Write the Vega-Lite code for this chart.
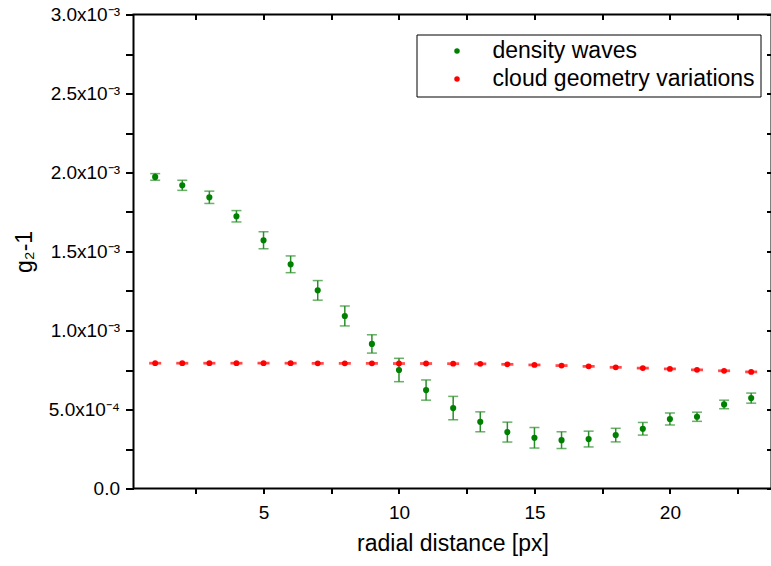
{
  "$schema": "https://vega.github.io/schema/vega-lite/v6.json",
  "autosize": {"type": "none"},
  "width": 638,
  "height": 474,
  "padding": {"left": 133.5, "top": 14.5, "right": 0, "bottom": 77.5},
  "background": "white",
  "config": {
    "view": {"stroke": "#000000", "strokeWidth": 2},
    "font": "Liberation Sans",
    "axis": {"domain": false, "tickColor": "#000000", "tickWidth": 2, "grid": false, "labelColor": "black", "titleColor": "black", "labelFont": "Liberation Sans", "titleFont": "Liberation Sans", "titleFontWeight": "normal"}
  },
  "data": {"values": [
    {"r": 1, "v": 0.001972, "lo": 0.001951, "hi": 0.001993, "series": "density waves"},
    {"r": 2, "v": 0.001919, "lo": 0.001887, "hi": 0.001951, "series": "density waves"},
    {"r": 3, "v": 0.001843, "lo": 0.001804, "hi": 0.001882, "series": "density waves"},
    {"r": 4, "v": 0.001723, "lo": 0.001687, "hi": 0.001759, "series": "density waves"},
    {"r": 5, "v": 0.001571, "lo": 0.001517, "hi": 0.001625, "series": "density waves"},
    {"r": 6, "v": 0.001419, "lo": 0.001366, "hi": 0.001472, "series": "density waves"},
    {"r": 7, "v": 0.001254, "lo": 0.001192, "hi": 0.001316, "series": "density waves"},
    {"r": 8, "v": 0.001092, "lo": 0.001029, "hi": 0.001155, "series": "density waves"},
    {"r": 9, "v": 0.000915, "lo": 0.000857, "hi": 0.000973, "series": "density waves"},
    {"r": 10, "v": 0.000750, "lo": 0.000676, "hi": 0.000824, "series": "density waves"},
    {"r": 11, "v": 0.000623, "lo": 0.000559, "hi": 0.000687, "series": "density waves"},
    {"r": 12, "v": 0.000509, "lo": 0.000435, "hi": 0.000583, "series": "density waves"},
    {"r": 13, "v": 0.000422, "lo": 0.000359, "hi": 0.000485, "series": "density waves"},
    {"r": 14, "v": 0.000357, "lo": 0.000294, "hi": 0.000420, "series": "density waves"},
    {"r": 15, "v": 0.000321, "lo": 0.000256, "hi": 0.000386, "series": "density waves"},
    {"r": 16, "v": 0.000306, "lo": 0.000253, "hi": 0.000359, "series": "density waves"},
    {"r": 17, "v": 0.000313, "lo": 0.000263, "hi": 0.000363, "series": "density waves"},
    {"r": 18, "v": 0.000338, "lo": 0.000295, "hi": 0.000381, "series": "density waves"},
    {"r": 19, "v": 0.000378, "lo": 0.000338, "hi": 0.000418, "series": "density waves"},
    {"r": 20, "v": 0.000440, "lo": 0.000402, "hi": 0.000478, "series": "density waves"},
    {"r": 21, "v": 0.000454, "lo": 0.000425, "hi": 0.000483, "series": "density waves"},
    {"r": 22, "v": 0.000532, "lo": 0.000505, "hi": 0.000559, "series": "density waves"},
    {"r": 23, "v": 0.000572, "lo": 0.000540, "hi": 0.000604, "series": "density waves"},
    {"r": 1, "v": 0.000793, "lo": 0.000789, "hi": 0.000797, "series": "cloud geometry variations"},
    {"r": 2, "v": 0.000793, "lo": 0.000789, "hi": 0.000797, "series": "cloud geometry variations"},
    {"r": 3, "v": 0.000793, "lo": 0.000789, "hi": 0.000797, "series": "cloud geometry variations"},
    {"r": 4, "v": 0.000793, "lo": 0.000789, "hi": 0.000797, "series": "cloud geometry variations"},
    {"r": 5, "v": 0.000793, "lo": 0.000789, "hi": 0.000797, "series": "cloud geometry variations"},
    {"r": 6, "v": 0.000793, "lo": 0.000789, "hi": 0.000797, "series": "cloud geometry variations"},
    {"r": 7, "v": 0.000792, "lo": 0.000788, "hi": 0.000796, "series": "cloud geometry variations"},
    {"r": 8, "v": 0.000792, "lo": 0.000788, "hi": 0.000796, "series": "cloud geometry variations"},
    {"r": 9, "v": 0.000792, "lo": 0.000788, "hi": 0.000796, "series": "cloud geometry variations"},
    {"r": 10, "v": 0.000791, "lo": 0.000787, "hi": 0.000795, "series": "cloud geometry variations"},
    {"r": 11, "v": 0.000791, "lo": 0.000787, "hi": 0.000795, "series": "cloud geometry variations"},
    {"r": 12, "v": 0.000790, "lo": 0.000786, "hi": 0.000794, "series": "cloud geometry variations"},
    {"r": 13, "v": 0.000789, "lo": 0.000785, "hi": 0.000793, "series": "cloud geometry variations"},
    {"r": 14, "v": 0.000786, "lo": 0.000782, "hi": 0.000790, "series": "cloud geometry variations"},
    {"r": 15, "v": 0.000782, "lo": 0.000778, "hi": 0.000786, "series": "cloud geometry variations"},
    {"r": 16, "v": 0.000778, "lo": 0.000774, "hi": 0.000782, "series": "cloud geometry variations"},
    {"r": 17, "v": 0.000773, "lo": 0.000769, "hi": 0.000777, "series": "cloud geometry variations"},
    {"r": 18, "v": 0.000767, "lo": 0.000763, "hi": 0.000771, "series": "cloud geometry variations"},
    {"r": 19, "v": 0.000762, "lo": 0.000758, "hi": 0.000766, "series": "cloud geometry variations"},
    {"r": 20, "v": 0.000757, "lo": 0.000753, "hi": 0.000761, "series": "cloud geometry variations"},
    {"r": 21, "v": 0.000751, "lo": 0.000747, "hi": 0.000755, "series": "cloud geometry variations"},
    {"r": 22, "v": 0.000745, "lo": 0.000741, "hi": 0.000749, "series": "cloud geometry variations"},
    {"r": 23, "v": 0.000738, "lo": 0.000734, "hi": 0.000742, "series": "cloud geometry variations"}
  ]},
  "layer": [
    {
      "transform": [{"filter": "datum.series === 'density waves'"}],
      "mark": {"type": "rule", "color": "#2a8f2a", "strokeWidth": 1.5},
      "encoding": {
        "x": {"field": "r", "type": "quantitative", "scale": {"domain": [0.2, 23.75], "nice": false, "zero": false},
          "axis": {"orient": "bottom", "title": "radial distance [px]", "values": [2.5, 5, 7.5, 10, 12.5, 15, 17.5, 20, 22.5], "format": "d", "labelExpr": "datum.value % 5 === 0 ? datum.label : ''", "tickSize": 5, "labelFontSize": 19, "labelPadding": 10, "titleFontSize": 23, "titlePadding": 10}},
        "y": {"field": "lo", "type": "quantitative", "scale": {"domain": [0, 0.003], "nice": false},
          "axis": {"orient": "left", "title": "g₂-1", "values": [0, 0.00025, 0.0005, 0.00075, 0.001, 0.00125, 0.0015, 0.00175, 0.002, 0.00225, 0.0025, 0.00275, 0.003],
            "labelExpr": "abs(datum.value*2000 - round(datum.value*2000)) > 0.001 ? '' : (datum.value < 1e-9 ? '0.0' : (datum.value < 0.0009 ? format(datum.value*10000, '.1f') + 'x10⁻⁴' : format(datum.value*1000, '.1f') + 'x10⁻³'))",
            "tickSize": 8, "labelFontSize": 19, "labelPadding": 6, "titleFontSize": 23, "titlePadding": 12}},
        "y2": {"field": "hi"}
      }
    },
    {
      "transform": [{"filter": "datum.series === 'density waves'"}],
      "mark": {"type": "tick", "orient": "horizontal", "color": "#2a8f2a", "size": 10, "thickness": 1.5},
      "encoding": {
        "x": {"field": "r", "type": "quantitative", "axis": null},
        "y": {"field": "lo", "type": "quantitative", "axis": null}
      }
    },
    {
      "transform": [{"filter": "datum.series === 'density waves'"}],
      "mark": {"type": "tick", "orient": "horizontal", "color": "#2a8f2a", "size": 10, "thickness": 1.5},
      "encoding": {
        "x": {"field": "r", "type": "quantitative", "axis": null},
        "y": {"field": "hi", "type": "quantitative", "axis": null}
      }
    },
    {
      "transform": [{"filter": "datum.series === 'density waves'"}],
      "mark": {"type": "point", "filled": true, "opacity": 1, "size": 38, "shape": "circle"},
      "encoding": {
        "x": {"field": "r", "type": "quantitative", "axis": null},
        "y": {"field": "v", "type": "quantitative", "axis": null},
        "color": {"field": "series", "type": "nominal", "scale": {"domain": ["density waves", "cloud geometry variations"], "range": ["#008000", "#ff0000"]},
          "legend": {"title": null, "orient": "none", "legendX": 283, "legendY": 20, "strokeColor": "black", "fillColor": "white", "padding": 5, "symbolType": "circle", "symbolSize": 30, "symbolOffset": 24, "labelOffset": 24, "labelFontSize": 23, "labelFont": "Liberation Sans", "labelColor": "black", "rowPadding": 4, "labelLimit": 400}}
      }
    },
    {
      "transform": [{"filter": "datum.series === 'cloud geometry variations'"}],
      "mark": {"type": "tick", "orient": "horizontal", "color": "#ff0000", "size": 12, "thickness": 1.5},
      "encoding": {
        "x": {"field": "r", "type": "quantitative", "axis": null},
        "y": {"field": "lo", "type": "quantitative", "axis": null}
      }
    },
    {
      "transform": [{"filter": "datum.series === 'cloud geometry variations'"}],
      "mark": {"type": "tick", "orient": "horizontal", "color": "#ff0000", "size": 12, "thickness": 1.5},
      "encoding": {
        "x": {"field": "r", "type": "quantitative", "axis": null},
        "y": {"field": "hi", "type": "quantitative", "axis": null}
      }
    },
    {
      "transform": [{"filter": "datum.series === 'cloud geometry variations'"}],
      "mark": {"type": "point", "filled": true, "opacity": 1, "size": 34, "shape": "circle"},
      "encoding": {
        "x": {"field": "r", "type": "quantitative",
          "axis": {"orient": "top", "title": null, "labels": false, "values": [2.5, 5, 7.5, 10, 12.5, 15, 17.5, 20, 22.5], "tickSize": -5}},
        "y": {"field": "v", "type": "quantitative",
          "axis": {"orient": "right", "title": null, "labels": false, "values": [0, 0.00025, 0.0005, 0.00075, 0.001, 0.00125, 0.0015, 0.00175, 0.002, 0.00225, 0.0025, 0.00275, 0.003], "tickSize": -5}},
        "color": {"field": "series", "type": "nominal"}
      }
    }
  ],
  "resolve": {"axis": {"x": "independent", "y": "independent"}}
}
